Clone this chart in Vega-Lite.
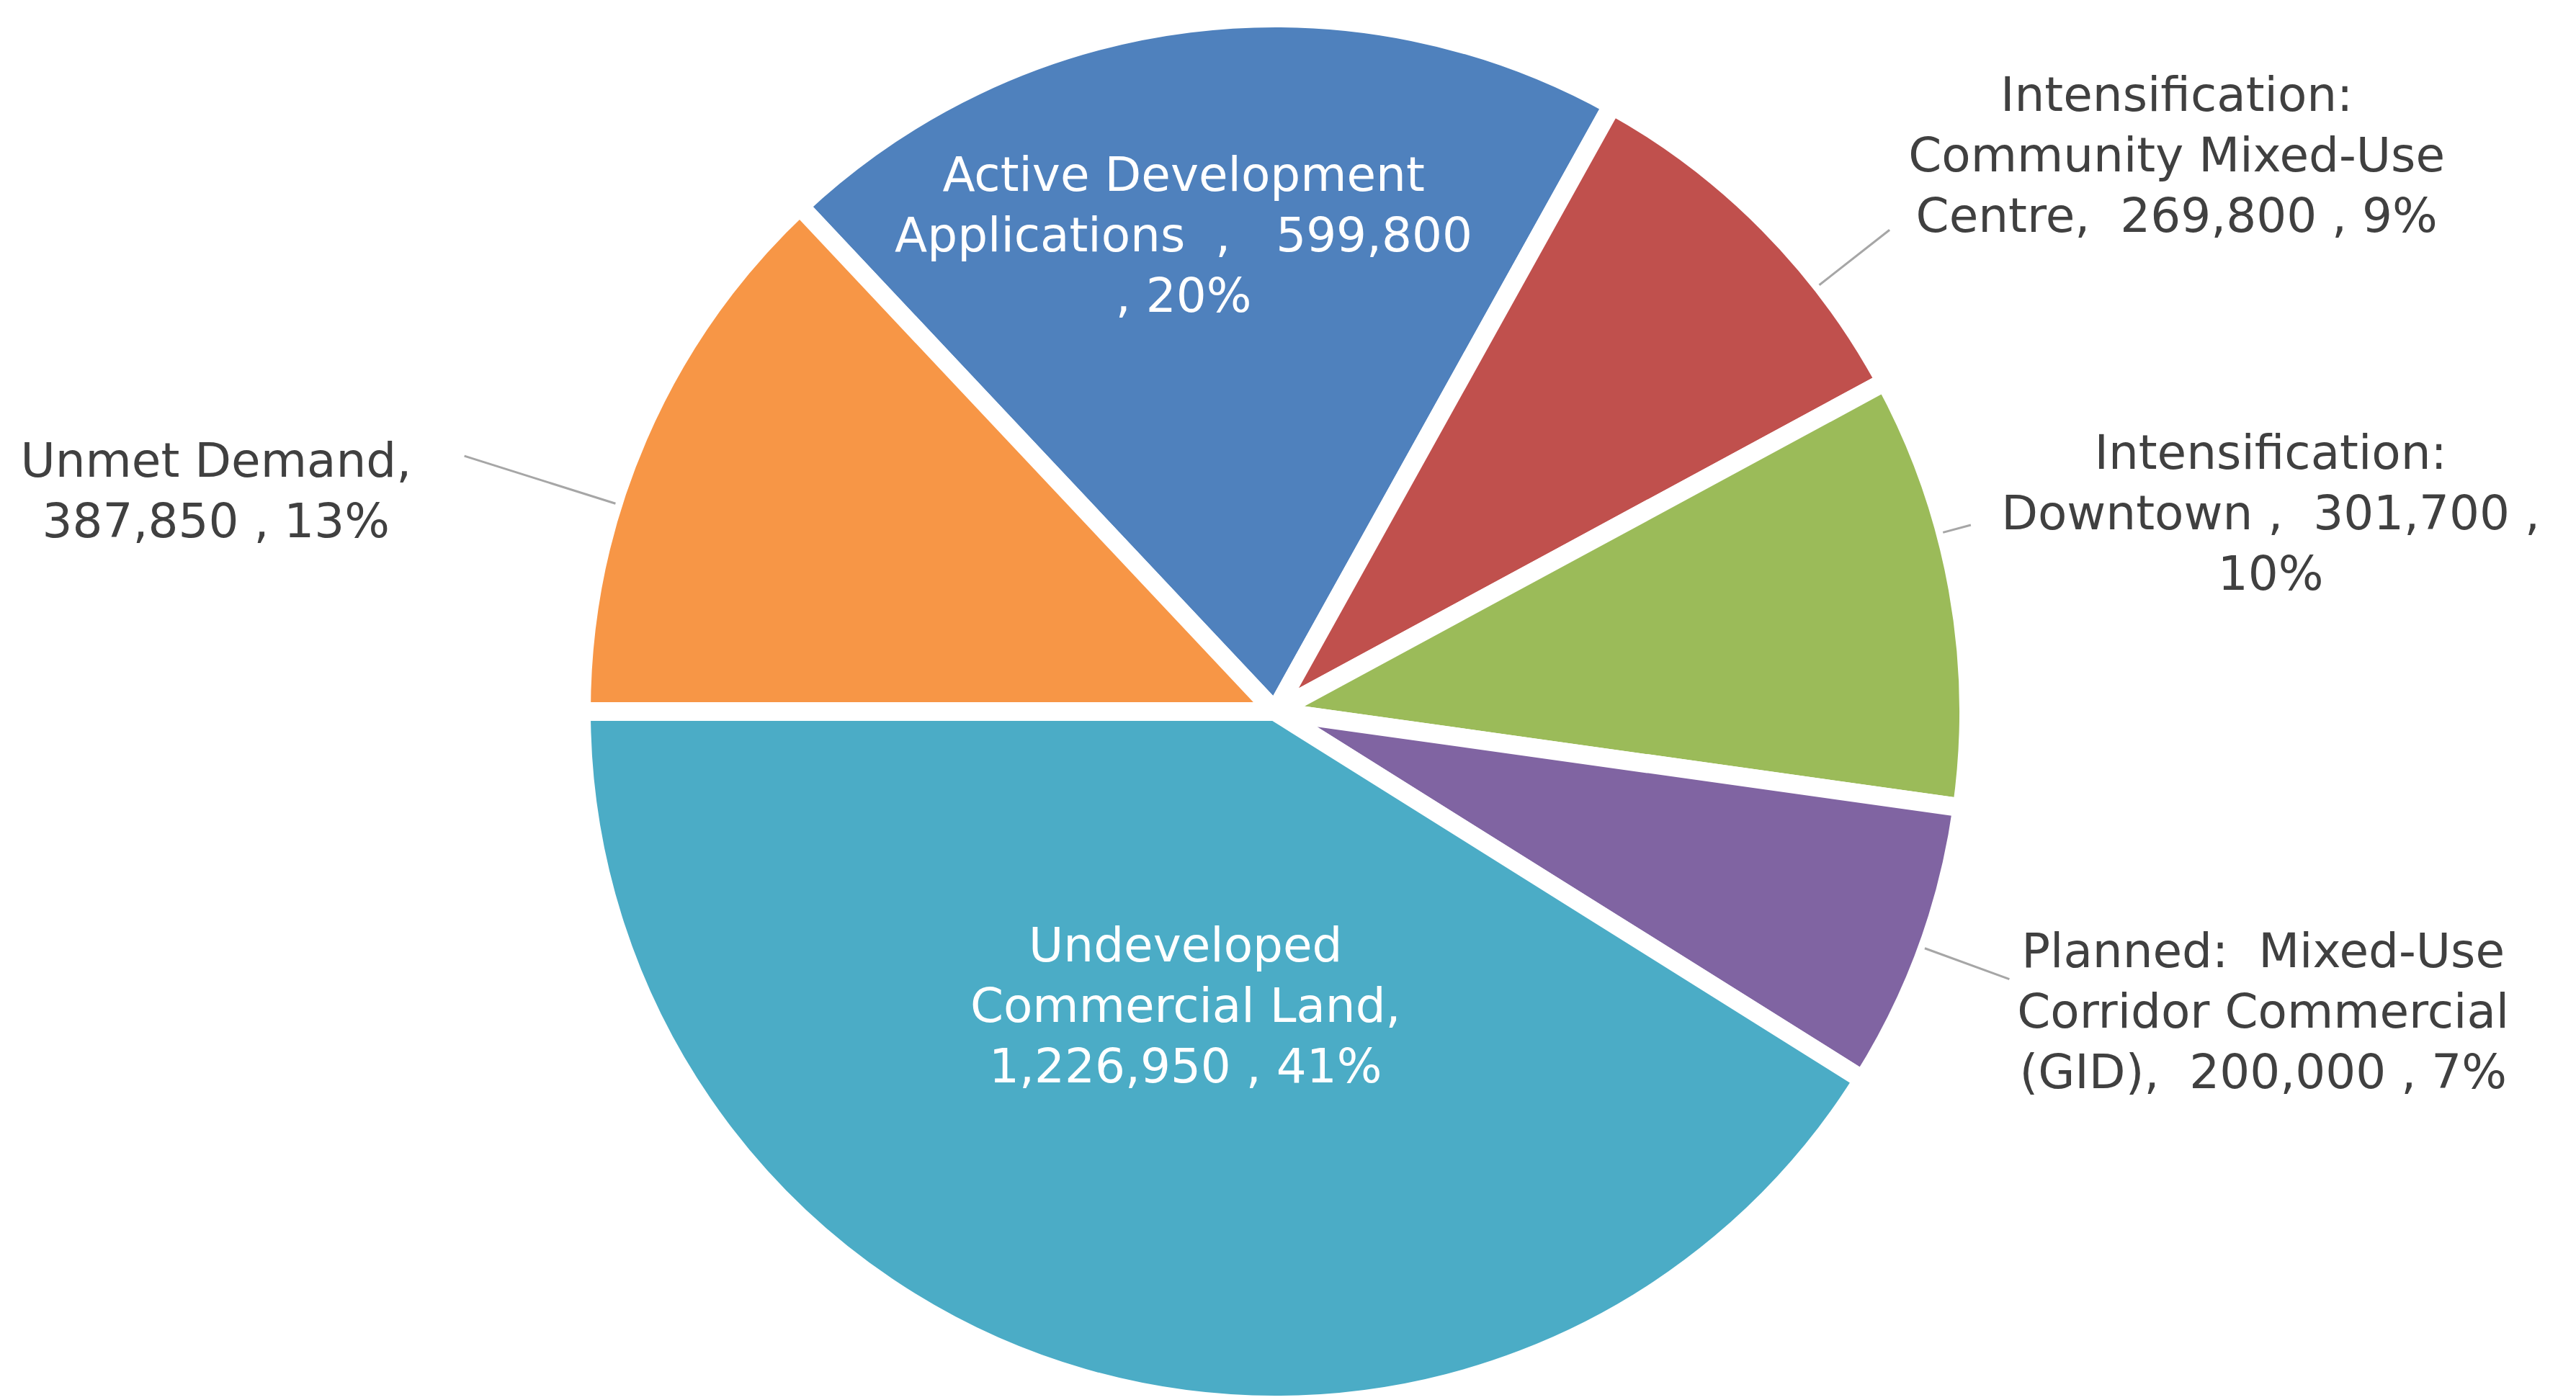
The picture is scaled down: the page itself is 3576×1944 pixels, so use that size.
{
  "$schema": "https://vega.github.io/schema/vega-lite/v6.json",
  "width": 3540,
  "height": 1912,
  "autosize": {"type": "none"},
  "padding": {"left": 0, "top": 32, "right": 36, "bottom": 0},
  "background": "white",
  "config": {"view": {"stroke": null}},
  "data": {
    "values": [
      {"category": "Active Development Applications", "value": 599800, "order": 1, "label": "Active Development\nApplications\u00a0 ,\u00a0\u00a0 599,800\n, 20%"},
      {"category": "Intensification: Community Mixed-Use Centre", "value": 269800, "order": 2, "label": "Intensification:\nCommunity Mixed-Use\nCentre,\u00a0 269,800 , 9%"},
      {"category": "Intensification: Downtown", "value": 301700, "order": 3, "label": "Intensification:\nDowntown ,\u00a0 301,700 ,\n10%"},
      {"category": "Planned: Mixed-Use Corridor Commercial (GID)", "value": 200000, "order": 4, "label": "Planned:\u00a0 Mixed-Use\nCorridor Commercial\n(GID),\u00a0 200,000 , 7%"},
      {"category": "Undeveloped Commercial Land", "value": 1226950, "order": 5, "label": "Undeveloped\nCommercial Land,\n1,226,950 , 41%"},
      {"category": "Unmet Demand", "value": 387850, "order": 6, "label": "Unmet Demand,\n387,850 , 13%"}
    ]
  },
  "encoding": {
    "theta": {"field": "value", "type": "quantitative", "stack": true, "scale": {"range": [-0.7547, 5.5285]}},
    "order": {"field": "order", "type": "quantitative"},
    "detail": {"field": "category", "type": "nominal"}
  },
  "layer": [
    {
      "mark": {"type": "arc", "radius": 963, "stroke": "white", "strokeWidth": 26, "strokeJoin": "bevel", "clip": true},
      "encoding": {
        "color": {
          "field": "category",
          "type": "nominal",
          "scale": {
            "domain": ["Active Development Applications", "Intensification: Community Mixed-Use Centre", "Intensification: Downtown", "Planned: Mixed-Use Corridor Commercial (GID)", "Undeveloped Commercial Land", "Unmet Demand"],
            "range": ["#4F81BD", "#C0504D", "#9BBB59", "#8064A2", "#4BACC6", "#F79646"]
          },
          "legend": null
        }
      }
    },
    {
      "mark": {"type": "arc", "radius": 1180, "radius2": 960, "padAngle": 3, "thetaOffset": -0.1026, "theta2Offset": -0.1026, "filled": false, "stroke": "#A6A6A6", "strokeWidth": 3},
      "encoding": {"strokeOpacity": {"condition": {"test": "datum.category === 'Unmet Demand'", "value": 1}, "value": 0}}
    },
    {
      "mark": {"type": "arc", "radius": 1084, "radius2": 960, "padAngle": 3, "thetaOffset": 0.1147, "theta2Offset": 0.1147, "filled": false, "stroke": "#A6A6A6", "strokeWidth": 3},
      "encoding": {"strokeOpacity": {"condition": {"test": "datum.category === 'Intensification: Community Mixed-Use Centre'", "value": 1}, "value": 0}}
    },
    {
      "mark": {"type": "arc", "radius": 1000, "radius2": 960, "padAngle": 3, "thetaOffset": -0.0836, "theta2Offset": -0.0836, "filled": false, "stroke": "#A6A6A6", "strokeWidth": 3},
      "encoding": {"strokeOpacity": {"condition": {"test": "datum.category === 'Intensification: Downtown'", "value": 1}, "value": 0}}
    },
    {
      "mark": {"type": "arc", "radius": 1085, "radius2": 960, "padAngle": 3, "filled": false, "stroke": "#A6A6A6", "strokeWidth": 3},
      "encoding": {"strokeOpacity": {"condition": {"test": "datum.category === 'Planned: Mixed-Use Corridor Commercial (GID)'", "value": 1}, "value": 0}}
    },
    {
      "mark": {"type": "text", "radius": 664, "dx": -45, "dy": -84, "font": "DejaVu Sans", "fontSize": 66, "lineHeight": 84, "lineBreak": "\n", "align": "center", "baseline": "middle", "color": "white"},
      "encoding": {"text": {"condition": {"test": "datum.category === 'Active Development Applications'", "field": "label"}, "value": ""}}
    },
    {
      "mark": {"type": "text", "radius": 428, "dx": -6, "dy": -84, "font": "DejaVu Sans", "fontSize": 66, "lineHeight": 84, "lineBreak": "\n", "align": "center", "baseline": "middle", "color": "white"},
      "encoding": {"text": {"condition": {"test": "datum.category === 'Undeveloped Commercial Land'", "field": "label"}, "value": ""}}
    },
    {
      "mark": {"type": "text", "radius": 1130, "dx": 448, "dy": -60, "font": "DejaVu Sans", "fontSize": 66, "lineHeight": 84, "lineBreak": "\n", "align": "center", "baseline": "middle", "color": "#404040"},
      "encoding": {"text": {"condition": {"test": "datum.category === 'Intensification: Community Mixed-Use Centre'", "field": "label"}, "value": ""}}
    },
    {
      "mark": {"type": "text", "radius": 1130, "dx": 270, "dy": -157, "font": "DejaVu Sans", "fontSize": 66, "lineHeight": 84, "lineBreak": "\n", "align": "center", "baseline": "middle", "color": "#404040"},
      "encoding": {"text": {"condition": {"test": "datum.category === 'Intensification: Downtown'", "field": "label"}, "value": ""}}
    },
    {
      "mark": {"type": "text", "radius": 1130, "dx": 310, "dy": -52, "font": "DejaVu Sans", "fontSize": 66, "lineHeight": 84, "lineBreak": "\n", "align": "center", "baseline": "middle", "color": "#404040"},
      "encoding": {"text": {"condition": {"test": "datum.category === 'Planned: Mixed-Use Corridor Commercial (GID)'", "field": "label"}, "value": ""}}
    },
    {
      "mark": {"type": "text", "radius": 1130, "dx": -433, "dy": 102, "font": "DejaVu Sans", "fontSize": 66, "lineHeight": 84, "lineBreak": "\n", "align": "center", "baseline": "middle", "color": "#404040"},
      "encoding": {"text": {"condition": {"test": "datum.category === 'Unmet Demand'", "field": "label"}, "value": ""}}
    }
  ]
}
